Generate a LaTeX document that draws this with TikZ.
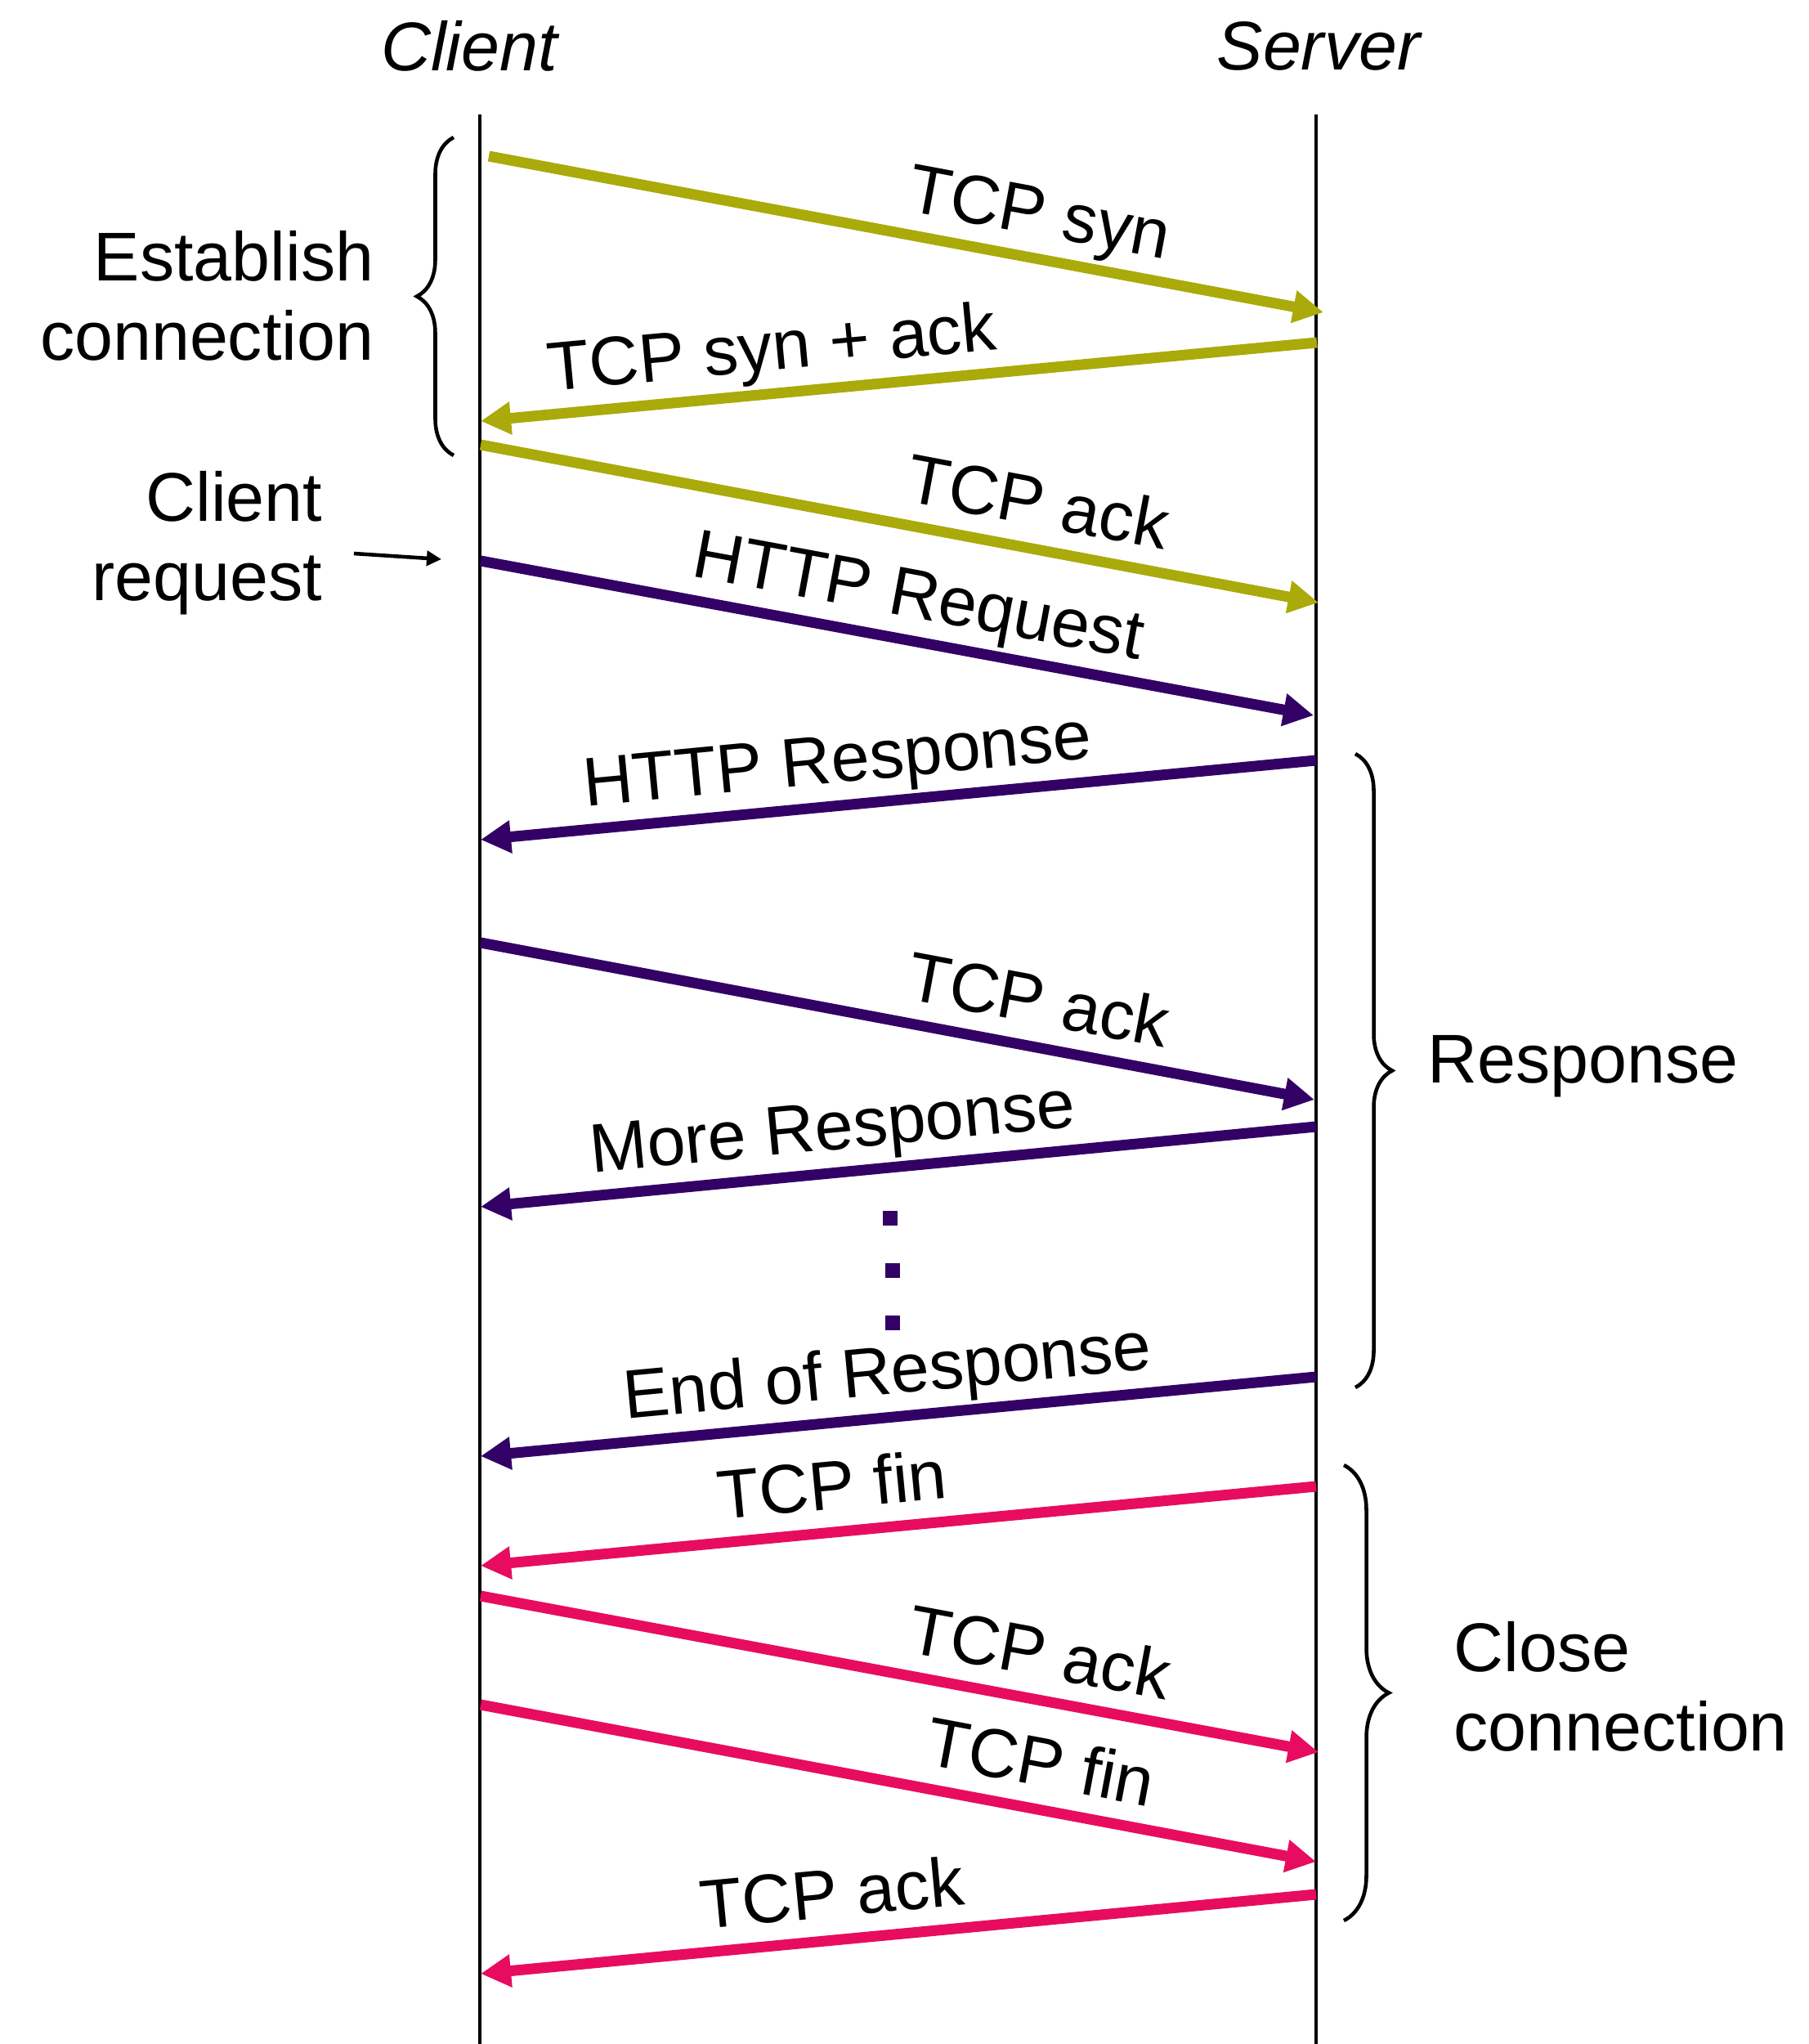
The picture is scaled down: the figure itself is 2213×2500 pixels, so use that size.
\documentclass[tikz,border=0pt]{standalone}
\usepackage{fontspec}
\setmainfont{Liberation Sans}
\usetikzlibrary{arrows.meta,decorations.pathreplacing}

\definecolor{synolive}{RGB}{170,170,10}
\definecolor{httppurple}{RGB}{51,0,102}
\definecolor{finpink}{RGB}{232,12,96}

\begin{document}
\begin{tikzpicture}
        [x=0.01cm,y=-0.01cm,
         lifeline/.style={line width=1.3pt},
         msg/.style={line width=3.7pt,-{Triangle[length=0.37cm,width=0.38cm]}},
         lbl/.style={text=black,font=\fontsize{24}{28}\selectfont,inner sep=4pt,
                     text height=0.75em,text depth=0.22em,sloped,above},
         txt/.style={font=\fontsize{24}{27.5}\selectfont,inner sep=0pt},
         grp/.style={decorate,line width=1.3pt,decoration={brace,amplitude=#1}},
         pointer/.style={line width=1.3pt,-{Triangle[length=0.18cm,width=0.18cm]}},
         dot/.style={fill=httppurple,minimum size=0.18cm,inner sep=0pt}]
        \useasboundingbox (0,0) rectangle (2213,2500);

        % lifelines
        \node[txt] (client) at (574,56) {\itshape Client};
        \node[txt] (server) at (1613,56) {\itshape Server};
        \coordinate (cltop) at (587,140);
        \coordinate (clbot) at (587,2500);
        \coordinate (svtop) at (1610,140);
        \coordinate (svbot) at (1610,2500);
        \draw[lifeline] (cltop) -- (clbot);
        \draw[lifeline] (svtop) -- (svbot);

        % handshake
        \coordinate (c1) at (598,191);   \coordinate (s1) at (1619,382);
        \coordinate (s2) at (1611,419);  \coordinate (c2) at (588,515);
        \coordinate (c3) at (588,544);   \coordinate (s3) at (1613,737);
        \draw[msg,synolive] (c1) -- node[lbl,pos=0.65]{TCP syn} (s1);
        \draw[msg,synolive] (s2) -- node[lbl,pos=0.647]{TCP syn + ack} (c2);
        \draw[msg,synolive] (c3) -- node[lbl,pos=0.655]{TCP ack} (s3);

        % request and response
        \coordinate (c4) at (588,686);   \coordinate (s4) at (1607,875);
        \coordinate (s5) at (1610,930);  \coordinate (c5) at (588,1027);
        \coordinate (c6) at (588,1153);  \coordinate (s6) at (1608,1345);
        \coordinate (s7) at (1610,1378); \coordinate (c7) at (588,1476);
        \coordinate (s8) at (1610,1684); \coordinate (c8) at (588,1781);
        \draw[msg,httppurple] (c4) -- node[lbl,pos=0.516]{HTTP Request} (s4);
        \draw[msg,httppurple] (s5) -- node[lbl,pos=0.568]{HTTP Response} (c5);
        \draw[msg,httppurple] (c6) -- node[lbl,pos=0.659]{TCP ack} (s6);
        \draw[msg,httppurple] (s7) -- node[lbl,pos=0.574]{More Response} (c7);
        \node[dot] (d1) at (1089,1490) {};
        \node[dot] (d2) at (1092,1554) {};
        \node[dot] (d3) at (1092,1618) {};
        \draw[msg,httppurple] (s8) -- node[lbl,pos=0.508]{End of Response} (c8);

        % teardown
        \coordinate (s9) at (1610,1818);  \coordinate (c9) at (588,1915);
        \coordinate (c10) at (588,1952);  \coordinate (s10) at (1613,2143);
        \coordinate (c11) at (588,2085);  \coordinate (s11) at (1610,2277);
        \coordinate (s12) at (1610,2317); \coordinate (c12) at (588,2414);
        \draw[msg,finpink] (s9) -- node[lbl,pos=0.574]{TCP fin} (c9);
        \draw[msg,finpink] (c10) -- node[lbl,pos=0.657]{TCP ack} (s10);
        \draw[msg,finpink] (c11) -- node[lbl,pos=0.66]{TCP fin} (s11);
        \draw[msg,finpink] (s12) -- node[lbl,pos=0.574]{TCP ack} (c12);

        % phases
        \node[txt,align=right,anchor=east] (estab) at (458,362) {Establish\\connection};
        \node[txt,align=right,anchor=east] (creq) at (395,664) {Client\\request};
        \node[txt,anchor=west] (resp) at (1746,1304) {Response};
        \node[txt,align=left,anchor=west] (close) at (1778,2063) {Close\\connection};
        \coordinate (b1a) at (555,557);  \coordinate (b1b) at (555,168);
        \coordinate (b2a) at (1658,922); \coordinate (b2b) at (1658,1697);
        \coordinate (b3a) at (1644,1792); \coordinate (b3b) at (1644,2349);
        \draw[grp=0.45cm] (b1a) -- (b1b);
        \draw[grp=0.45cm] (b2a) -- (b2b);
        \draw[grp=0.55cm] (b3a) -- (b3b);
        \coordinate (rqa) at (433,677);  \coordinate (rqb) at (540,684);
        \draw[pointer] (rqa) -- (rqb);
\end{tikzpicture}
\end{document}
